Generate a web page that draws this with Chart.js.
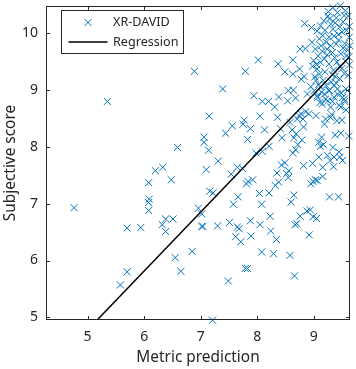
<!DOCTYPE html>
<html><head><meta charset="utf-8">
<script src="https://cdn.jsdelivr.net/npm/chart.js@4/dist/chart.umd.min.js"></script>
<style>html,body{margin:0;padding:0;background:#fff}#wrap{width:356px;height:369px;position:relative}</style>
</head><body><div id="wrap"><canvas id="c"></canvas></div>
<script>
const seriesName = 'XR-DAVID';
const regName = 'Regression';
const xTitle = 'Metric prediction';
const yTitle = 'Subjective score';
const xTicks = [5,6,7,8,9];
const yTicks = [5,6,7,8,9,10];
const xRange = [4.264, 9.642];
const yRange = [4.953, 10.479];
const regX = [5.169, 9.642];
const regY = [4.953, 9.591];

const metricX = [
4.76,5.35,5.58,5.70,5.70,5.94,6.08,6.08,6.09,6.08,
6.20,6.33,6.32,6.38,6.38,6.48,6.51,6.55,6.59,6.65,
6.89,6.85,6.96,7.02,7.02,7.04,7.06,7.06,7.10,7.14,
7.15,7.16,7.22,7.21,7.30,7.31,7.39,7.44,7.49,7.51,
7.54,7.56,7.58,7.62,7.65,7.65,7.66,7.68,7.71,7.74,
7.75,7.77,7.79,7.81,7.83,7.84,7.79,7.83,7.88,7.88,
7.89,7.92,7.94,7.98,8.02,8.04,8.05,8.05,8.08,8.08,
8.09,8.09,8.13,8.20,8.21,8.21,8.23,8.24,8.31,8.29,
8.34,8.36,8.37,8.32,8.35,8.38,8.38,8.41,8.44,8.43,
8.49,8.49,8.52,8.54,8.55,8.55,8.56,8.58,8.60,8.63,
8.64,8.63,8.63,8.65,8.65,8.66,8.67,8.68,8.69,8.70,
8.71,8.72,8.76,8.75,8.76,8.78,8.78,8.81,8.82,8.82,
8.83,8.84,8.85,8.88,8.89,8.91,8.92,8.94,8.95,8.95,
8.96,8.97,8.98,8.99,8.99,9.03,9.05,9.04,9.06,9.09,
9.09,9.12,9.14,9.16,9.16,9.17,9.19,9.21,9.24,9.28,
9.29,9.30,9.32,9.34,9.35,9.36,9.38,9.41,9.44,9.45,
9.46,9.48,9.50,9.51,9.55,9.62,9.57,
8.58,8.62,8.74,8.79,8.86,8.68,
9.34,9.47,9.25,9.54,9.61,9.40,9.18,9.30,9.12,9.06,
9.34,9.46,9.58,9.44,9.27,9.10,9.22,9.40,9.55,9.63,
9.03,9.15,9.33,9.48,9.60,9.00,9.12,9.27,9.41,9.56,
9.06,9.20,9.35,9.50,9.63,9.02,9.17,9.31,9.46,9.61,
9.12,9.27,9.42,9.57,9.06,9.21,9.36,9.51,9.15,9.30,
9.45,9.09,9.38,9.01,9.07,9.11,9.19,9.25,9.28,9.36,
9.42,9.48,9.54,9.60,9.20,9.28,9.38,9.52,9.63,9.24,
9.08,9.37,9.52,9.44,9.30,9.13,9.19,9.58,9.05,9.24,
9.46,9.36,9.50,9.26,9.42,9.56,9.16,8.98,9.10,9.33,
9.54,9.22,9.40,9.14,9.33,9.48,9.04,9.62,9.64
];
const subjY = [
6.93,8.80,5.57,6.57,5.80,6.58,7.37,7.02,7.08,6.88,
7.58,7.64,6.63,6.73,6.51,7.42,6.73,6.05,7.99,5.81,
9.33,6.16,6.92,6.82,6.60,6.60,8.17,8.08,7.60,7.94,
8.54,7.22,7.19,4.95,6.61,7.75,9.02,8.24,5.64,6.67,
7.52,8.37,6.99,6.42,7.64,6.59,7.12,6.56,6.33,7.62,
8.40,8.47,9.33,7.35,8.13,7.39,5.86,5.86,8.32,6.70,
6.43,7.42,8.90,7.89,9.53,7.18,6.63,8.54,6.99,6.15,
7.92,8.80,8.30,8.80,8.01,7.19,6.78,6.52,8.70,6.12,
6.37,8.52,9.46,7.32,7.54,7.38,8.88,8.32,8.16,7.68,
9.32,7.72,7.53,8.81,7.46,8.99,7.58,6.09,7.03,9.53,
9.00,9.28,7.89,7.15,8.16,5.73,6.63,7.95,8.23,6.65,
8.49,8.04,6.78,9.37,9.72,9.19,8.58,8.49,8.35,7.67,
9.24,10.17,9.73,6.87,8.93,8.58,6.45,6.89,7.35,9.06,
10.10,9.84,7.71,6.77,7.39,7.42,6.74,8.55,7.41,7.82,
8.08,8.01,8.17,7.64,7.48,8.04,8.40,8.49,7.85,7.12,
7.76,8.52,8.57,7.99,7.65,7.82,8.21,8.46,7.12,7.91,
7.82,8.24,8.47,7.76,8.80,8.19,8.65,
8.43,8.30,8.55,8.12,8.62,8.86,
10.45,10.48,10.30,10.31,10.30,10.27,10.22,10.16,10.13,10.04,
10.07,10.11,10.05,9.98,9.93,9.90,9.84,9.81,9.82,9.93,
9.72,9.68,9.66,9.64,9.70,9.52,9.49,9.46,9.49,9.51,
9.37,9.32,9.35,9.38,9.44,9.23,9.17,9.14,9.20,9.26,
9.05,8.99,9.02,9.02,8.90,8.84,8.87,8.87,8.76,8.70,
8.73,9.10,9.24,8.99,8.87,8.78,8.93,8.81,8.99,9.08,
8.93,8.70,8.84,8.99,10.05,10.25,10.18,10.20,10.12,9.72,
9.60,9.57,9.74,9.88,9.78,9.78,9.55,9.60,9.45,9.62,
9.42,9.95,10.02,10.38,10.36,10.40,9.96,9.42,9.28,9.27,
9.29,9.08,9.12,8.96,8.80,8.95,9.17,9.58,9.78
];

const BLUE = '#0072BD';
const AX = '#262626';
const FONT = "'Noto Sans', 'DejaVu Sans', sans-serif";

const framePlugin = {
  id: 'frame',
  afterDatasetsDraw(chart) {
    const {ctx, chartArea: a, scales: {x, y}} = chart;
    ctx.save();
    ctx.strokeStyle = AX;
    ctx.lineWidth = 1;
    ctx.strokeRect(a.left + 0.5, a.top + 0.5, a.right - a.left - 1, a.bottom - a.top - 1);
    ctx.beginPath();
    const tl = 4;
    xTicks.forEach(v => {
      const p = Math.round(x.getPixelForValue(v)) + 0.5;
      ctx.moveTo(p, a.bottom); ctx.lineTo(p, a.bottom - tl);
      ctx.moveTo(p, a.top); ctx.lineTo(p, a.top + tl);
    });
    yTicks.forEach(v => {
      const p = Math.round(y.getPixelForValue(v)) + 0.5;
      ctx.moveTo(a.left, p); ctx.lineTo(a.left + tl, p);
      ctx.moveTo(a.right, p); ctx.lineTo(a.right - tl, p);
    });
    ctx.stroke();

    // legend box
    const bx = a.left + 15.5, by = a.top + 4.5, bw = 122, bh = 43;
    ctx.fillStyle = '#fff';
    ctx.fillRect(bx, by, bw, bh);
    ctx.strokeStyle = AX;
    ctx.strokeRect(bx, by, bw, bh);
    const row1 = by + 12, row2 = by + 31.5;
    ctx.strokeStyle = BLUE; ctx.lineWidth = 1;
    const mx = bx + 26.5, d = 3.5;
    ctx.beginPath();
    ctx.moveTo(mx - d, row1 - d); ctx.lineTo(mx + d, row1 + d);
    ctx.moveTo(mx - d, row1 + d); ctx.lineTo(mx + d, row1 - d);
    ctx.stroke();
    ctx.strokeStyle = '#000'; ctx.lineWidth = 1.5;
    ctx.beginPath();
    ctx.moveTo(bx + 7, row2); ctx.lineTo(bx + 46, row2);
    ctx.stroke();
    ctx.fillStyle = AX;
    ctx.font = "12.6px " + FONT;
    ctx.textBaseline = 'middle';
    ctx.textAlign = 'left';
    ctx.fillText(seriesName, bx + 51.5, row1);
    ctx.fillText(regName, bx + 51.5, row2);
    ctx.restore();
  }
};

const points = metricX.map((v, i) => ({x: v, y: subjY[i]}));
const regLine = regX.map((v, i) => ({x: v, y: regY[i]}));

new Chart(document.getElementById('c'), {
  type: 'scatter',
  data: {
    datasets: [
      {label: seriesName, data: points, pointStyle: 'crossRot', pointRadius: 5, pointHoverRadius: 5,
       borderColor: BLUE, backgroundColor: BLUE, pointBorderWidth: 1, borderWidth: 1, clip: false, order: 2},
      {label: regName, type: 'line', data: regLine, borderColor: '#000', borderWidth: 1.5,
       pointRadius: 0, fill: false, showLine: true, order: 1}
    ]
  },
  options: {
    responsive: true, maintainAspectRatio: false, animation: false,
    layout: {padding: {top: 5, right: 5, left: 0, bottom: 0}},
    plugins: {legend: {display: false}, tooltip: {enabled: false}},
    scales: {
      x: {
        type: 'linear', min: xRange[0], max: xRange[1],
        afterBuildTicks: s => { s.ticks = xTicks.map(v => ({value: v})); },
        afterFit: s => { s.height = 49; s.paddingLeft = 0; s.paddingRight = 0; },
        grid: {display: false, drawTicks: false}, border: {display: false},
        ticks: {color: AX, font: {family: FONT, size: 14}, padding: 9, maxRotation: 0},
        title: {display: true, text: xTitle, color: AX, font: {family: FONT, size: 15.4}, padding: {top: 2, bottom: 2}}
      },
      y: {
        type: 'linear', min: yRange[0], max: yRange[1],
        afterBuildTicks: s => { s.ticks = yTicks.map(v => ({value: v})); },
        afterFit: s => { s.width = 46; s.paddingTop = 0; s.paddingBottom = 0; },
        grid: {display: false, drawTicks: false}, border: {display: false},
        ticks: {color: AX, font: {family: FONT, size: 14}, padding: 8},
        title: {display: true, text: yTitle, color: AX, font: {family: FONT, size: 15.4}, padding: {top: 1, bottom: 1}}
      }
    }
  },
  plugins: [framePlugin]
});
</script>
</body></html>
